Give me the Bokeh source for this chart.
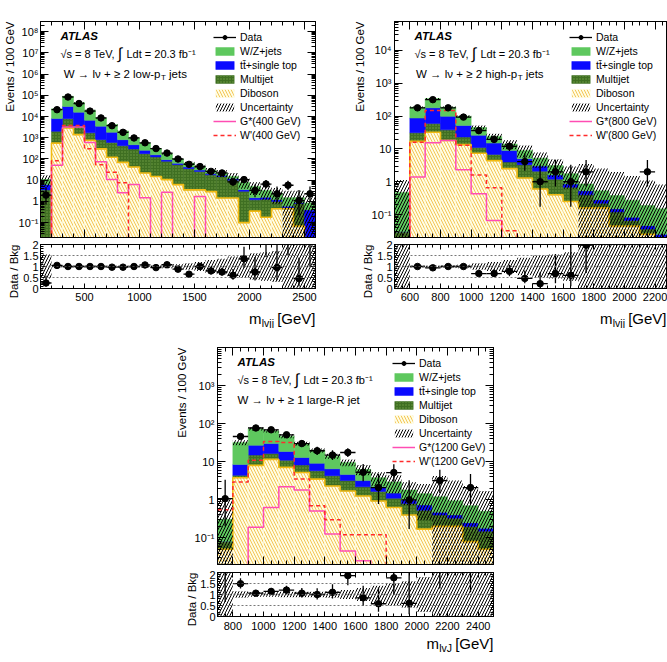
import numpy as np
from bokeh.plotting import figure
from bokeh.models import (FixedTicker, CustomJSTickFormatter, Label, Legend, LegendItem,
                          LinearAxis, LogAxis, Span, Spacer, Title)
from bokeh.layouts import column, row
from bokeh.embed import file_html
from bokeh.resources import INLINE

FONT = "Liberation Sans"
FLOOR = 1e-4  # stand-in for zero on the log axes (below every visible range)

# ---------------- W -> lv + >= 2 low-pT jets : m_lvjj ----------------
A_EDGES = [100, 200, 300, 400, 500, 600, 700, 800, 900, 1000, 1100, 1200, 1300,
           1400, 1500, 1600, 1700, 1800, 1900, 2000, 2100, 2200, 2300, 2400, 2500, 2600]
A_DATA = [2, 21000, 83000, 41000, 18000, 8600, 3700, 1800, 980, 580, 310, 190, 100,
          56, 44, 26, 22, 8.3, 10.7, 3.3, 6.6, 2.3, 5.8, 1.1, 2.3]
A_RATIO = [0.25, 1.05, 1.0, 1.0, 1.0, 1.0, 0.97, 0.97, 1.0, 1.07, 0.95, 1.08, 0.88,
           0.65, 1.0, 0.8, 0.75, 0.6, 1.35, 0.75, 2.3, 0.95, 2.5, 0.45, 2.6]
A_DIBOSON = [0, 560, 2900, 1400, 760, 300, 120, 69, 42, 22, 15, 10.7, 6.2,
             3.5, 3.5, 2.9, 1.45, 1.45, 0.1, 0.35, 0.18, 0.45, 0.45, 0.07, 0]
A_MULTIJET = [3.5, 1440, 4900, 2100, 940, 510, 480, 351, 253, 156, 110, 67, 48,
              31.5, 22.5, 15, 13.5, 8.5, 2.9, 0.85, 1.1, 0.55, 0.05, 0.73, 0]
A_TOP = [2.7, 6000, 22200, 12500, 4900, 2690, 1200, 390, 175, 78, 33, 15, 8,
         7, 4, 3, 2, 2, 0.6, 0.3, 0.3, 0.2, 0.1, 0.1, 0.4]
A_WZJETS = [4.8, 15000, 60000, 30000, 13400, 5000, 2400, 1290, 510, 314, 152, 85, 38,
            23, 15, 8, 5, 3, 4.4, 3.5, 1.7, 1.3, 0.9, 0.6, 0.45]
A_UNC = [0.55, 0.05, 0.04, 0.04, 0.04, 0.04, 0.04, 0.05, 0.05, 0.06, 0.06, 0.08, 0.1,
         0.15, 0.2, 0.3, 0.35, 0.45, 0.5, 0.6, 0.65, 0.7, 1.1, 1.1, 1.1]
A_GSTAR = [0, 50, 3200, 3200, 600, 74, 10.7, 2.6, 6.3, 1.5, 0, 2.7, 0,
           0, 1.7, 0, 0, 0, 0, 0, 0, 0, 0, 0, 0]
A_WPRIME = [0, 83, 3800, 3800, 300, 54, 24, 7.5, 0, 0, 0, 0, 0,
            0, 0, 0, 0, 0, 0, 0, 0, 0, 0, 0, 0]

# ---------------- W -> lv + >= 2 high-pT jets : m_lvjj ----------------
B_EDGES = [500, 600, 700, 800, 900, 1000, 1100, 1200, 1300, 1400,
           1500, 1600, 1700, 1800, 1900, 2000, 2100, 2200, 2300]
B_DATA = [0, 178, 316, 178, 93, 36, 19.5, 12, 4.1, 1.0, 2.0, 1.0, 2.0, 0, 0, 0, 2.0, 0]
B_RATIO = [None, 1.0, 0.94, 1.0, 1.0, 0.68, 0.68, 0.78, 0.46, 0.22, 0.68, 0.6, 1.97,
           None, None, None, 10.0, None]
B_DIBOSON = [0, 17, 32, 18, 13.5, 7.4, 4.4, 2.5, 1.3, 0.6, 0.4, 0.25, 0.16, 0.16,
             0.045, 0.045, 0.025, 0.013]
B_MULTIJET = [0.03, 14, 27, 20, 9.5, 3.6, 2.4, 1.5, 2.0, 1.5, 0.8, 0.43, 0.24, 0.06,
              0.075, 0.021, 0.011, 0.007]
B_TOP = [0, 56, 119, 60, 29, 15, 8.2, 4.9, 1.7, 0.9, 0.4, 0.17, 0.13, 0.06,
         0.03, 0.017, 0.01, 0.005]
B_WZJETS = [0.44, 99, 162, 88, 46, 19, 9, 5.1, 4, 2.2, 1.5, 0.9, 0.32, 0.25,
            0.23, 0.19, 0.144, 0.125]
B_UNC = [1.4, 0.05, 0.05, 0.06, 0.08, 0.15, 0.2, 0.3, 0.4, 0.5, 0.55, 0.65, 3.1, 3.8,
         4.2, 4.5, 4.7, 4.5]
B_GSTAR = [0, 1.4, 15.5, 18, 2.3, 0.43, 0.066, 0, 0, 0, 0, 0, 0, 0, 0, 0, 0, 0]
B_WPRIME = [0, 16, 148, 148, 13, 1.6, 0.65, 0.032, 0, 0, 0, 0, 0, 0, 0, 0, 0, 0]

# ---------------- W -> lv + >= 1 large-R jet : m_lvJ ----------------
C_EDGES = [700, 800, 900, 1000, 1100, 1200, 1300, 1400, 1500, 1600,
           1700, 1800, 1900, 2000, 2100, 2200, 2300, 2400, 2500]
C_DATA = [1.07, 46, 77, 69, 51, 30, 19.4, 15, 17.5, 5.3, 2.1, 5.2, 1.0, 0, 3.2, 0, 2.1, 0]
C_RATIO = [3.5, 1.49, 1.06, 1.14, 1.2, 1.06, 1.0, 1.1, 1.86, 0.85, 0.58, 1.76, 0.6,
           None, 2.7, None, 3.0, None]
C_DIBOSON = [0.05, 3.8, 8, 11.5, 7.1, 5.2, 3.5, 2.3, 1.7, 1.26, 0.93, 0.63, 0.4, 0.17,
             0.2, 0.2, 0.08, 0.05]
C_MULTIJET = [0.03, 0.6, 7, 5, 3.9, 3.0, 2.3, 2.0, 1.5, 0.94, 0.73, 0.47, 0.4, 0.36,
              0.2, 0.13, 0.12, 0.1]
C_TOP = [0, 4.1, 12, 13.5, 7.6, 4.8, 3.3, 2.2, 1.4, 1.0, 0.54, 0.4, 0.2, 0.2,
         0.07, 0.07, 0.05, 0.03]
C_WZJETS = [0.23, 23.5, 47, 35, 28.4, 17, 10.9, 7.5, 4.9, 3.1, 1.6, 1.45, 0.8, 0.72,
            0.73, 0.55, 0.45, 0.32]
C_UNC = [2.4, 0.15, 0.1, 0.1, 0.12, 0.12, 0.12, 0.15, 0.2, 0.3, 0.4, 0.5, 0.6, 0.8,
         2.5, 2.4, 2.3, 2.4]
C_GSTAR = [0, 0, 0.19, 0.63, 2.2, 1.8, 0.51, 0.126, 0.045, 0.025, 0, 0, 0, 0, 0, 0, 0, 0]
C_WPRIME = [0.55, 2.95, 11, 34, 32, 3.5, 0.7, 0.3, 0.12, 0.12, 0.12, 0, 0, 0, 0, 0, 0, 0]

# ---------------- colours ----------------
COL_WZ = "#5ec85e"
COL_TOP = "#0a0aff"
COL_MJ = "#3f6f22"
COL_MJ_DOT = "#6f9d45"
COL_DIB_FILL = "#fffde3"
COL_DIB_HATCH = "#f3c557"
COL_DIB_LINE = "#f2bb12"
COL_GSTAR = "#ff4db3"
COL_WPRIME = "#ff2b2b"

SUP_JS = """
const e = Math.round(Math.log10(tick));
if (e === 0) return "1";
if (e === 1) return "10";
const s = {"-": "⁻", "0": "⁰", "1": "¹", "2": "²", "3": "³", "4": "⁴",
           "5": "⁵", "6": "⁶", "7": "⁷", "8": "⁸", "9": "⁹"};
return "10" + String(e).split("").map(c => s[c]).join("");
"""


def poisson_interval(n):
    """68% Poisson (Garwood) interval, Wilson-Hilferty form."""
    n = np.asarray(n, float)
    s = np.where(n > 0, n, 1.0)
    lo = s * (1 - 1 / (9 * s) - 1 / (3 * np.sqrt(s))) ** 3
    u = s + 1
    hi = u * (1 - 1 / (9 * u) + 1 / (3 * np.sqrt(u))) ** 3
    return lo, hi


def style_axis(ax, major_in, minor_in, show_labels=True, standoff=4):
    ax.major_tick_in = major_in
    ax.major_tick_out = 0
    ax.minor_tick_in = minor_in
    ax.minor_tick_out = 0
    ax.axis_line_color = "black"
    ax.major_tick_line_color = "black"
    ax.minor_tick_line_color = "black"
    ax.major_label_text_font = FONT
    ax.major_label_text_color = "black"
    if show_labels:
        ax.major_label_text_font_size = "11px"
        ax.major_label_standoff = standoff
    else:
        # tick marks only
        ax.formatter = CustomJSTickFormatter(code='return "";')
        ax.major_label_text_font_size = "1px"
        ax.major_label_standoff = 0


def put(p, x, y, text, size="11px", align="left", baseline="middle",
        style="normal", angle=0):
    p.add_layout(Label(x=x, y=y, x_units="screen", y_units="screen", text=text,
                       text_font=FONT, text_font_size=size, text_align=align,
                       text_baseline=baseline, text_font_style=style,
                       angle=angle, angle_units="deg", text_color="black"))


def y_title(p, text, standoff):
    # vertical axis title, flush with the top of the frame
    p.add_layout(Title(text=text, align="right", text_font=FONT, text_font_size="11.5px",
                       text_font_style="normal", text_color="black", standoff=standoff),
                 "left")


def base_fig(w, h, xr, yr, bl, br, bt, bb, log=False):
    kw = dict(y_axis_type="log") if log else {}
    p = figure(width=w, height=h, x_range=xr, y_range=yr, output_backend="svg",
               toolbar_location=None, min_border_left=bl, min_border_right=br,
               min_border_top=bt, min_border_bottom=bb, **kw)
    p.grid.visible = False
    p.outline_line_color = "black"
    p.outline_line_width = 1
    p.background_fill_color = "white"
    p.border_fill_color = "white"
    return p


def text_strip(w, h):
    """Axis-free canvas that holds an x-axis title under a panel."""
    s = figure(width=w, height=h, x_range=(0, w), y_range=(0, h), output_backend="svg",
               toolbar_location=None, x_axis_location=None, y_axis_location=None,
               min_border=0)
    s.grid.visible = False
    s.outline_line_color = None
    s.background_fill_color = "white"
    s.border_fill_color = "white"
    return s


def main_panel(d, lay):
    e = np.array(d["edges"], float)
    lo, hi = e[:-1], e[1:]
    mid = 0.5 * (lo + hi)
    comps = np.array([d["diboson"], d["multijet"], d["top"], d["wz"]], float)
    cum = np.cumsum(comps, axis=0)
    total = cum[-1]
    unc = np.array(d["unc"], float)
    n = np.array(d["data"], float)

    p = base_fig(lay["w"], lay["h_main"], lay["xr"], lay["yr"], lay["bl"], lay["br"],
                 lay["bt_main"], lay["bb_main"], log=True)
    fh = lay["h_main"] - lay["bt_main"] - lay["bb_main"]

    styles = [
        dict(fill_color=COL_DIB_FILL, line_color=COL_DIB_FILL,
             hatch_pattern="left_diagonal_line", hatch_color=COL_DIB_HATCH,
             hatch_scale=6, hatch_weight=1),
        dict(fill_color=COL_MJ, line_color=COL_MJ, hatch_pattern="dot",
             hatch_color=COL_MJ_DOT, hatch_scale=3, hatch_weight=0.8),
        dict(fill_color=COL_TOP, line_color=COL_TOP),
        dict(fill_color=COL_WZ, line_color=COL_WZ),
    ]
    stack_r = []
    prev = np.full_like(total, FLOOR)
    for k in range(4):
        top_k = np.maximum(cum[k], FLOOR)
        stack_r.append(p.quad(left=lo, right=hi, bottom=prev, top=top_k, line_width=0.5,
                              **styles[k]))
        prev = top_k

    # diboson outline
    p.step(x=list(e), y=list(np.maximum(np.append(cum[0], cum[0][-1]), FLOOR)),
           mode="after", line_color=COL_DIB_LINE, line_width=1.6)

    # systematic band
    band_lo = np.where(unc < 1, total * (1 - unc), FLOOR)
    band_hi = total * (1 + unc)
    r_un = p.quad(left=lo, right=hi, bottom=band_lo, top=band_hi, fill_color=None,
                  line_color=None, hatch_pattern="right_diagonal_line", hatch_color="black",
                  hatch_scale=6, hatch_weight=1)

    # signal shapes
    gs = np.array(d["gstar"], float)
    wp = np.array(d["wprime"], float)
    r_gs = p.step(x=list(e), y=list(np.maximum(np.append(gs, gs[-1]), FLOOR)), mode="after",
                  line_color=COL_GSTAR, line_width=1.5)
    r_wp = p.step(x=list(e), y=list(np.maximum(np.append(wp, wp[-1]), FLOOR)), mode="after",
                  line_color=COL_WPRIME, line_width=1.5, line_dash="4 3")

    # data
    m = n > 0
    plo, phi = poisson_interval(n)
    p.segment(x0=mid[m], y0=np.maximum(plo[m], FLOOR), x1=mid[m], y1=phi[m],
              line_color="black", line_width=1.3)
    r_dl = p.segment(x0=lo[m], y0=n[m], x1=hi[m], y1=n[m], line_color="black",
                     line_width=1.3)
    r_dp = p.scatter(x=mid[m], y=n[m], size=6.5, color="black")

    # axes
    e0, e1 = lay["yexp"]
    ymaj = [10.0 ** k for k in range(e0, e1 + 1)]
    ymin = [mm * 10.0 ** k for k in range(e0 - 1, e1 + 1) for mm in range(2, 10)]
    yax = p.yaxis[0]
    yax.ticker = FixedTicker(ticks=ymaj, minor_ticks=ymin)
    yax.formatter = CustomJSTickFormatter(code=SUP_JS)
    style_axis(yax, 8, 4, standoff=lay["ylab_standoff"])
    xax = p.xaxis[0]
    xax.ticker = FixedTicker(ticks=lay["xmaj"], minor_ticks=lay["xmin"])
    style_axis(xax, 8, 4, show_labels=False)
    top_ax = LinearAxis(ticker=FixedTicker(ticks=lay["xmaj"], minor_ticks=lay["xmin"]))
    style_axis(top_ax, 8, 4, show_labels=False)
    p.add_layout(top_ax, "above")
    if lay["right_axis"]:
        r_ax = LogAxis(ticker=FixedTicker(ticks=ymaj, minor_ticks=ymin))
        style_axis(r_ax, 8, 4, show_labels=False)
        p.add_layout(r_ax, "right")
    y_title(p, "Events / 100 GeV", lay["yt_standoff"])

    mass = d["mass"]
    items = [
        LegendItem(label="Data", renderers=[r_dl, r_dp]),
        LegendItem(label="W/Z+jets", renderers=[stack_r[3]]),
        LegendItem(label="tt\u0304+single top", renderers=[stack_r[2]]),
        LegendItem(label="Multijet", renderers=[stack_r[1]]),
        LegendItem(label="Diboson", renderers=[stack_r[0]]),
        LegendItem(label="Uncertainty", renderers=[r_un]),
        LegendItem(label="G*(%s GeV)" % mass, renderers=[r_gs]),
        LegendItem(label="W'(%s GeV)" % mass, renderers=[r_wp]),
    ]
    leg = Legend(items=items, location=(lay["leg_x"], fh - 120),
                 glyph_width=23, glyph_height=10, label_height=10, label_standoff=4,
                 spacing=2, padding=0, margin=0, border_line_alpha=0,
                 background_fill_alpha=0, label_text_font=FONT,
                 label_text_font_size="10.5px", label_text_color="black")
    p.add_layout(leg)

    # texts
    put(p, 20, fh - 14, "ATLAS", size="11.5px", style="bold italic")
    put(p, 20, fh - 32, "√s = 8 TeV,")
    put(p, 79.5, fh - 32, "∫", size="16px", align="center")
    put(p, 86, fh - 32, "Ldt = 20.3 fb⁻¹")
    ch = d["channel"]
    if len(ch) == 3:
        put(p, lay["ch_x"], fh - 52, ch[0], size="11.5px", align="right")
        put(p, lay["ch_x"] + 0.5, fh - 56, ch[1], size="8px")
        put(p, lay["ch_x"] + 8.5, fh - 52, ch[2], size="11.5px")
    else:
        put(p, 20, fh - 52, ch[0], size="11.5px")
    return p


def ratio_panel(d, lay):
    e = np.array(d["edges"], float)
    lo, hi = e[:-1], e[1:]
    mid = 0.5 * (lo + hi)
    unc = np.array(d["unc"], float)
    n = np.array(d["data"], float)
    r = np.array(d["ratio"], dtype=float)

    p = base_fig(lay["w"], lay["h_ratio"], lay["xr"], (0, 2), lay["bl"], lay["br"],
                 lay["bt_ratio"], lay["bb_ratio"])

    p.quad(left=lo, right=hi, bottom=1 - unc, top=1 + unc, fill_color=None,
           line_color=None, hatch_pattern="right_diagonal_line", hatch_color="black",
           hatch_scale=6, hatch_weight=1)
    for v in (0.5, 1.0, 1.5):
        p.add_layout(Span(location=v, dimension="width", line_color="#555555",
                          line_dash="2 2", line_width=0.8))

    m = (n > 0) & np.isfinite(r)
    plo, phi = poisson_interval(n)
    rlo = np.where(m, r * plo / np.where(n > 0, n, 1), 0)
    rhi = np.where(m, r * phi / np.where(n > 0, n, 1), 0)
    p.segment(x0=mid[m], y0=rlo[m], x1=mid[m], y1=rhi[m], line_color="black", line_width=1.3)
    p.segment(x0=lo[m], y0=r[m], x1=hi[m], y1=r[m], line_color="black", line_width=1.3)
    p.scatter(x=mid[m], y=r[m], size=6.5, color="black")

    ratio_ticks = [0, 0.5, 1, 1.5, 2]
    ratio_minor = [0.1 * i for i in range(21)]
    yax = p.yaxis[0]
    yax.ticker = FixedTicker(ticks=ratio_ticks, minor_ticks=ratio_minor)
    yax.formatter = CustomJSTickFormatter(code="return String(tick);")
    style_axis(yax, 5, 3, standoff=2)
    xax = p.xaxis[0]
    xax.ticker = FixedTicker(ticks=lay["xmaj"], minor_ticks=lay["xmin"])
    style_axis(xax, 5, 3, standoff=lay["xlab_standoff"])
    top_ax = LinearAxis(ticker=FixedTicker(ticks=lay["xmaj"], minor_ticks=lay["xmin"]))
    style_axis(top_ax, 5, 3, show_labels=False)
    p.add_layout(top_ax, "above")
    if lay["right_axis"]:
        r_ax = LinearAxis(ticker=FixedTicker(ticks=ratio_ticks, minor_ticks=ratio_minor))
        style_axis(r_ax, 5, 3, show_labels=False)
        p.add_layout(r_ax, "right")
    y_title(p, "Data / Bkg", lay["rt_standoff"])
    return p


def xtitle_strip(w, h, x_end, y, sub, sub_w):
    s = text_strip(w, h)
    put(s, x_end, y, "[GeV]", size="15px", align="right")
    put(s, x_end - 41.5, y - 4, sub, size="10.5px", align="right")
    put(s, x_end - 41.5 - sub_w, y, "m", size="15px", align="right")
    return s


PANEL_A = dict(edges=A_EDGES, data=A_DATA, ratio=A_RATIO, diboson=A_DIBOSON,
               multijet=A_MULTIJET, top=A_TOP, wz=A_WZJETS, unc=A_UNC, gstar=A_GSTAR,
               wprime=A_WPRIME, mass="400", msub="lvjj",
               channel=["W → lν + ≥ 2 low-p", "T", "jets"])
PANEL_B = dict(edges=B_EDGES, data=B_DATA, ratio=B_RATIO, diboson=B_DIBOSON,
               multijet=B_MULTIJET, top=B_TOP, wz=B_WZJETS, unc=B_UNC, gstar=B_GSTAR,
               wprime=B_WPRIME, mass="800", msub="lvjj",
               channel=["W → lν + ≥ 2 high-p", "T", "jets"])
PANEL_C = dict(edges=C_EDGES, data=C_DATA, ratio=C_RATIO, diboson=C_DIBOSON,
               multijet=C_MULTIJET, top=C_TOP, wz=C_WZJETS, unc=C_UNC, gstar=C_GSTAR,
               wprime=C_WPRIME, mass="1200", msub="lvJ",
               channel=["W → lν + ≥ 1 large-R jet"])

LAY_A = dict(w=335, bl=40, br=20, xr=(100, 2600), yr=(0.02, 3e8),
             yexp=(-1, 8), h_main=240, bt_main=21, bb_main=3, h_ratio=70, bt_ratio=4,
             bb_ratio=22, xmaj=[500, 1000, 1500, 2000, 2500],
             xmin=list(range(100, 2700, 100)), leg_x=173, ch_x=120, xlab_standoff=4,
             right_axis=True, yt_standoff=0, rt_standoff=1, ylab_standoff=2)
LAY_B = dict(w=332, bl=59, br=0, xr=(500, 2281), yr=(0.02, 7.6e4),
             yexp=(-1, 4), h_main=240, bt_main=21, bb_main=3, h_ratio=70, bt_ratio=4,
             bb_ratio=22, xmaj=list(range(600, 2400, 200)),
             xmin=list(range(500, 2350, 50)), leg_x=175, ch_x=122.7, xlab_standoff=4,
             right_axis=False, yt_standoff=6, rt_standoff=1, ylab_standoff=3)
LAY_C = dict(w=353, bl=57, br=20, xr=(700, 2500), yr=(0.02, 1e4),
             yexp=(-1, 3), h_main=242, bt_main=19, bb_main=6, h_ratio=64, bt_ratio=2,
             bb_ratio=18, xmaj=list(range(800, 2600, 200)),
             xmin=list(range(700, 2550, 50)), leg_x=175, ch_x=20, xlab_standoff=5,
             right_axis=True, yt_standoff=7, rt_standoff=0, ylab_standoff=3)

pa, ra = main_panel(PANEL_A, LAY_A), ratio_panel(PANEL_A, LAY_A)
pb, rb = main_panel(PANEL_B, LAY_B), ratio_panel(PANEL_B, LAY_B)
pc, rc = main_panel(PANEL_C, LAY_C), ratio_panel(PANEL_C, LAY_C)

page = column(
    row(pa, pb),
    row(ra, rb),
    row(xtitle_strip(335, 18, 315, 10, "lvjj", 12.5),
        xtitle_strip(332, 18, 331, 10, "lvjj", 12.5)),
    row(Spacer(width=160, height=242), pc),
    row(Spacer(width=160, height=64), rc),
    row(Spacer(width=160, height=28), xtitle_strip(353, 28, 333, 19, "lvJ", 13)),
)

open("out.html", "w").write(file_html(page, INLINE))
